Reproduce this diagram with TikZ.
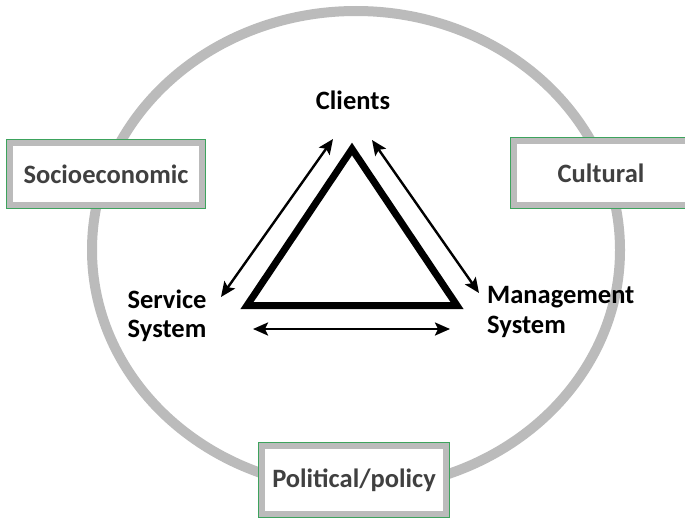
\documentclass[tikz,border=0pt]{standalone}
\usepackage{fontspec}
\setmainfont{Carlito}
\usetikzlibrary{arrows.meta}
\definecolor{ringgray}{HTML}{BBBBBB}
\definecolor{boxgreen}{HTML}{3DA35D}
\definecolor{boxtext}{HTML}{404040}
\tikzset{
    lbl/.style = {font=\bfseries\fontsize{26.5}{29.5}\selectfont, inner sep=0pt},
    actor/.style = {lbl, text=black},
    factor/.style = {lbl, text=boxtext, fill=white, draw=ringgray, line width=6pt,
        preaction={draw=boxgreen, line width=8pt}},
    ring/.style = {draw=ringgray, line width=10pt},
    tri/.style = {draw=black, line width=7pt, miter limit=10},
    link/.style = {{Stealth[length=15pt, width=13pt, inset=3pt]}-{Stealth[length=15pt, width=13pt, inset=3pt]}, line width=2.4pt}
}
\begin{document}
\begin{tikzpicture}[x=1pt, y=-1pt]
    \useasboundingbox (0,0) rectangle (685,519);
    % environment ring
    \draw[ring] (356,250) ellipse [x radius=264, y radius=239];
    % context boxes sitting on the ring
    \node[factor, minimum width=192, minimum height=62] (socio) at (106,174) {Socioeconomic};
    \node[factor, minimum width=174, minimum height=64] (cult) at (601,173) {Cultural};
    \node[factor, minimum width=184, minimum height=68] (poli) at (354,480) {Political/policy};
    % central triangle
    \draw[tri] (352,149) -- (247,305.5) -- (457,305.5) -- cycle;
    % corner labels
    \node[actor] (clients) at (353,100) {Clients};
    \node[actor, align=center] (service) at (167,316) {Service\\System};
    \node[actor, align=left, anchor=west] (mgmt) at (487,312) {Management\\System};
    % arrow ends
    \coordinate (cl-w) at (333,139);
    \coordinate (sv-n) at (221,297);
    \coordinate (cl-e) at (372,140);
    \coordinate (mg-n) at (479,293);
    \coordinate (sv-e) at (253,329);
    \coordinate (mg-w) at (450,329);
    \draw[link] (cl-w) -- (sv-n);
    \draw[link] (cl-e) -- (mg-n);
    \draw[link] (sv-e) -- (mg-w);
\end{tikzpicture}
\end{document}
